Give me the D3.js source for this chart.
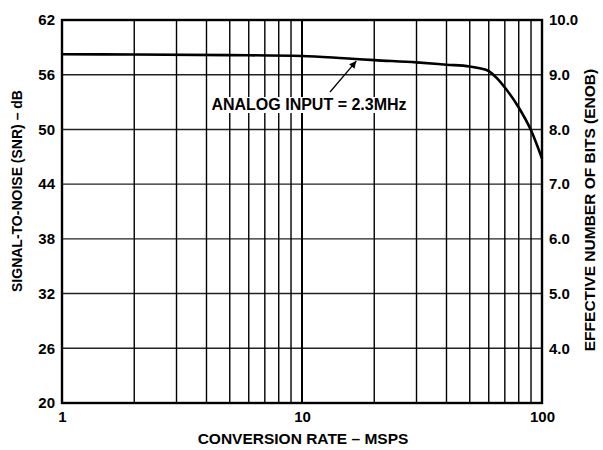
<!DOCTYPE html>
<html><head><meta charset="utf-8">
<script src="https://cdn.jsdelivr.net/npm/d3@7"></script>
<style>body{margin:0;background:#fff}text{font-family:"Liberation Sans",Arial,Helvetica,sans-serif;font-weight:bold;fill:#000}</style>
</head><body>
<svg id="c" width="603" height="450"></svg>
<script>
const rateMSPS = [1, 2, 5, 10, 15, 20, 30, 40, 50, 55, 60, 65, 70, 80, 90, 100];
const snrDB    = [58.25, 58.22, 58.15, 58.05, 57.8, 57.6, 57.35, 57.1, 56.9, 56.7, 56.4, 55.6, 54.6, 52.4, 49.9, 46.8];
const snrTicks = [20, 26, 32, 38, 44, 50, 56, 62];
const enobTicks = ["", "4.0", "5.0", "6.0", "7.0", "8.0", "9.0", "10.0"];
const xTickLabels = [1, 10, 100];
const xGrid = [2,3,4,5,6,7,8,9,10,20,30,40,50,60,70,80,90];
const annotation = {text: "ANALOG INPUT = 2.3MHz", at: 17};

const L=62,R=542,T=20,B=403;
const svg=d3.select("#c");
const x=d3.scaleLog().domain([1,100]).range([L,R]);
const y=d3.scaleLinear().domain([20,62]).range([B,T]);

// grid
svg.append("g").selectAll("line").data(snrTicks.slice(1,-1)).join("line")
  .attr("x1",L).attr("x2",R).attr("y1",d=>y(d)).attr("y2",d=>y(d))
  .attr("stroke","#222").attr("stroke-width",1.4);
svg.append("g").selectAll("line").data(xGrid).join("line")
  .attr("y1",T).attr("y2",B).attr("x1",d=>x(d)).attr("x2",d=>x(d))
  .attr("stroke","#000").attr("stroke-width",d=>d===10?2:1.4);

// annotation box + text
const tip=[x(annotation.at), y(d3.scaleLog().domain(rateMSPS).range(snrDB)(annotation.at))];
const ann=svg.append("text").attr("x",309).attr("y",110).attr("text-anchor","middle")
  .style("font-size","16px").text(annotation.text);
const bb=ann.node().getBBox();
svg.insert("rect","text").attr("x",bb.x-3).attr("y",bb.y+1).attr("width",bb.width+6).attr("height",bb.height-1).attr("fill","#fff");

// arrow
svg.append("defs").append("marker").attr("id","ah").attr("viewBox","0 0 10 10")
  .attr("refX",10).attr("refY",5).attr("markerWidth",9).attr("markerHeight",7).attr("orient","auto")
  .attr("markerUnits","userSpaceOnUse")
  .append("path").attr("d","M0,0L10,5L0,10Z").attr("fill","#000");
svg.append("line").attr("x1",330).attr("y1",92).attr("x2",tip[0]-1).attr("y2",tip[1]+2)
  .attr("stroke","#000").attr("stroke-width",1.3).attr("marker-end","url(#ah)");

// curve
const line=d3.line().x((d,i)=>x(rateMSPS[i])).y(d=>y(d)).curve(d3.curveMonotoneX);
svg.append("path").attr("d",line(snrDB)).attr("fill","none").attr("stroke","#000").attr("stroke-width",2.6);

// frame
svg.append("rect").attr("x",L).attr("y",T).attr("width",R-L).attr("height",B-T)
  .attr("fill","none").attr("stroke","#000").attr("stroke-width",2.4);

// axes labels via d3 axes (domain hidden)
const yl=svg.append("g").attr("transform",`translate(${L},0)`)
  .call(d3.axisLeft(y).tickValues(snrTicks).tickSize(0).tickPadding(7));
const yr=svg.append("g").attr("transform",`translate(${R},0)`)
  .call(d3.axisRight(y).tickValues(snrTicks).tickSize(0).tickPadding(7).tickFormat((d,i)=>enobTicks[i]));
const xb=svg.append("g").attr("transform",`translate(0,${B})`)
  .call(d3.axisBottom(x).tickValues(xTickLabels).tickSize(0).tickPadding(8).tickFormat(d3.format("d")));
[yl,yr,xb].forEach(g=>{g.select(".domain").remove();
  g.selectAll("text").attr("font-family",null).style("font-size","15px").style("font-weight","bold");});

// titles
svg.append("text").attr("x",303).attr("y",444).attr("text-anchor","middle").style("font-size","15.5px")
  .text("CONVERSION RATE – MSPS");
svg.append("text").attr("transform","translate(22,191) rotate(-90)").attr("text-anchor","middle").style("font-size","14px")
  .text("SIGNAL-TO-NOISE (SNR) – dB");
svg.append("text").attr("transform","translate(595,210) rotate(-90)").attr("text-anchor","middle").style("font-size","15.5px")
  .text("EFFECTIVE NUMBER OF BITS (ENOB)");
</script>
</body></html>
